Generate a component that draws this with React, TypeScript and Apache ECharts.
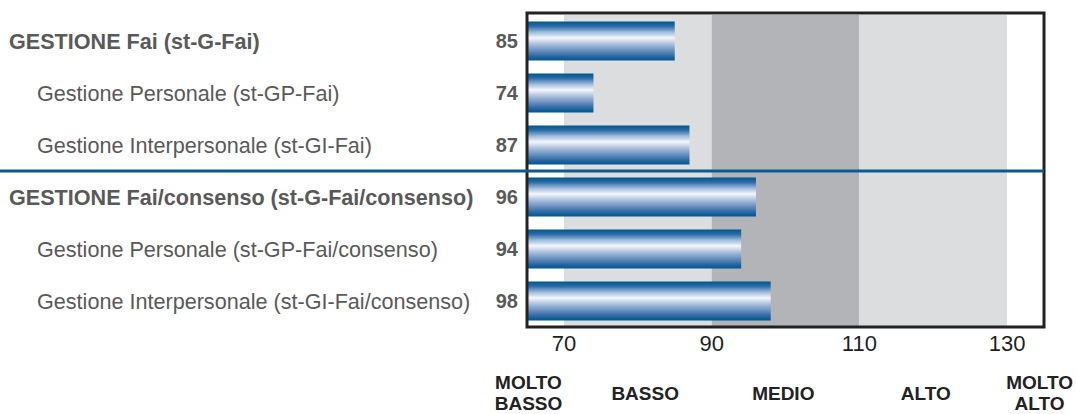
import React, { useEffect, useRef } from "react";
import * as echarts from "echarts";

const categories = [
  "GESTIONE Fai (st-G-Fai)",
  "Gestione Personale (st-GP-Fai)",
  "Gestione Interpersonale (st-GI-Fai)",
  "GESTIONE Fai/consenso (st-G-Fai/consenso)",
  "Gestione Personale (st-GP-Fai/consenso)",
  "Gestione Interpersonale (st-GI-Fai/consenso)",
];
const isGroupHeader = [true, false, false, true, false, false];
const scores = [85, 74, 87, 96, 94, 98];

const axisMin = 65;
const axisMax = 135;
const tickValues = [70, 90, 110, 130];

const bandRanges = [
  [70, 90],
  [90, 110],
  [110, 130],
];
const bandColors = ["#dcdddf", "#b3b4b7", "#dcdddf"];

const levelLabels = ["MOLTO\nBASSO", "BASSO", "MEDIO", "ALTO", "MOLTO\nALTO"];
const levelLabelPositions = [65.2, 81, 99.7, 119, 134.4];

const separatorAfterIndex = 2;

const FONT = "'Liberation Sans', Arial, Helvetica, sans-serif";

export default function App() {
  const ref = useRef<HTMLDivElement>(null);

  useEffect(() => {
    if (!ref.current) return;
    const chart = echarts.init(ref.current, undefined, { renderer: "svg" });

    const barGradient = new echarts.graphic.LinearGradient(0, 0, 0, 1, [
      { offset: 0, color: "#00568f" },
      { offset: 0.12, color: "#2a6ba5" },
      { offset: 0.27, color: "#9cb8da" },
      { offset: 0.42, color: "#f4f7fc" },
      { offset: 0.56, color: "#b3c6e2" },
      { offset: 0.74, color: "#6990c0" },
      { offset: 0.9, color: "#26659f" },
      { offset: 1, color: "#00568f" },
    ]);

    chart.setOption({
      animation: false,
      textStyle: { fontFamily: FONT },
      grid: {
        left: 527,
        right: 31,
        top: 15,
        bottom: 83,
        show: false,
        containLabel: false,
      },
      xAxis: [
        {
          type: "value",
          min: axisMin,
          max: axisMax,
          position: "bottom",
          axisLine: { show: false },
          axisTick: { show: false },
          splitLine: { show: false },
          axisLabel: {
            customValues: tickValues,
            color: "#1e1e1e",
            fontSize: 22,
            fontFamily: FONT,
            margin: 16,
            verticalAlign: "middle",
          },
        },
        {
          type: "value",
          min: axisMin,
          max: axisMax,
          position: "bottom",
          axisLine: { show: false },
          axisTick: { show: false },
          splitLine: { show: false },
          axisLabel: {
            customValues: levelLabelPositions,
            formatter: (v: number) => {
              const i = levelLabelPositions.indexOf(v);
              return i >= 0 ? levelLabels[i] : "";
            },
            color: "#222222",
            fontSize: 19,
            fontWeight: "bold",
            fontFamily: FONT,
            lineHeight: 21,
            align: "center",
            margin: 66,
            verticalAlign: "middle",
          },
        },
      ],
      yAxis: {
        type: "category",
        inverse: true,
        data: categories,
        axisLine: { show: false },
        axisTick: { show: false },
        splitLine: { show: false },
        axisLabel: {
          align: "left",
          margin: 518,
          formatter: (v: string, i: number) =>
            isGroupHeader[i] ? `{main|${v}}` : `{sub|${v}}`,
          rich: {
            main: {
              fontSize: 21.6,
              fontWeight: "bold",
              color: "#595959",
              fontFamily: FONT,
            },
            sub: {
              fontSize: 21.6,
              color: "#595959",
              fontFamily: FONT,
              padding: [0, 0, 0, 28],
            },
          },
        },
      },
      series: [
        {
          type: "scatter",
          data: [],
          silent: true,
          z: 1,
          markArea: {
            silent: true,
            data: bandRanges.map((r, i) => [
              { xAxis: r[0], itemStyle: { color: bandColors[i] } },
              { xAxis: r[1] },
            ]),
          },
        },
        {
          type: "bar",
          data: scores,
          z: 3,
          barWidth: 39,
          itemStyle: { color: barGradient },
          label: {
            show: true,
            position: "left",
            distance: 9,
            color: "#595959",
            fontSize: 20,
            fontWeight: "bold",
            fontFamily: FONT,
          },
        },
      ],
    });

    const yA = chart.convertToPixel({ yAxisIndex: 0 }, separatorAfterIndex) as number;
    const yB = chart.convertToPixel({ yAxisIndex: 0 }, separatorAfterIndex + 1) as number;
    const xLeft = chart.convertToPixel({ xAxisIndex: 0 }, axisMin) as number;
    const xRight = chart.convertToPixel({ xAxisIndex: 0 }, axisMax) as number;
    const yFirst = chart.convertToPixel({ yAxisIndex: 0 }, 0) as number;
    const yLast = chart.convertToPixel({ yAxisIndex: 0 }, categories.length - 1) as number;
    const band = (yLast - yFirst) / (categories.length - 1);
    const frameTop = yFirst - band / 2 - 2;
    const frameBottom = yLast + band / 2;
    const ySep = (yA + yB) / 2;

    chart.setOption({
      graphic: [
        {
          type: "rect",
          z: 20,
          silent: true,
          shape: { x: xLeft, y: frameTop, width: xRight - xLeft, height: frameBottom - frameTop },
          style: { fill: "none", stroke: "#222222", lineWidth: 3 },
        },
        {
          type: "line",
          z: 21,
          silent: true,
          shape: { x1: 0, y1: ySep, x2: xRight, y2: ySep },
          style: { stroke: "#0e5a8c", lineWidth: 3 },
        },
      ],
    });

    return () => chart.dispose();
  }, []);

  return (
    <div
      ref={ref}
      style={{ position: "fixed", left: 0, top: 0, width: 1076, height: 414, background: "#ffffff" }}
    />
  );
}
